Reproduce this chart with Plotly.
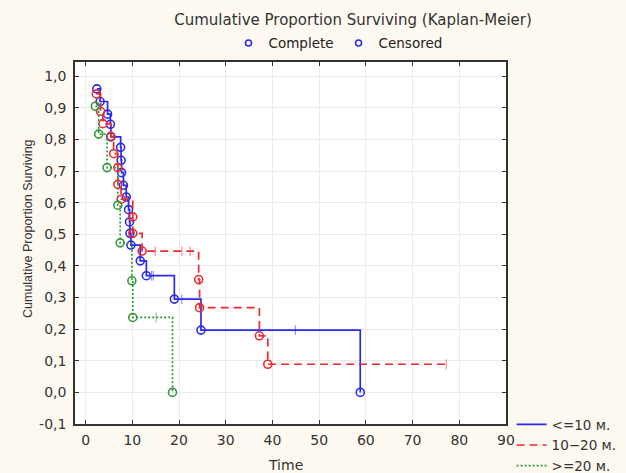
import plotly.graph_objects as go

# ---------------- data ----------------
groups = ["<=10 м.", "10\u221220 м.", ">=20 м."]

blue_event_t = [2.4, 3.1, 4.7, 5.3, 5.4, 7.5, 7.6, 7.7, 8.1, 8.7, 9.2, 9.4, 9.5, 9.7, 11.7, 13.0, 19.0, 24.7, 58.8]
blue_event_s = [0.96, 0.92, 0.88, 0.848, 0.808, 0.775, 0.734, 0.695, 0.655, 0.618, 0.578, 0.539, 0.503, 0.466, 0.416, 0.369, 0.295, 0.197, 0.0]
blue_cens_t = [14.1, 14.5, 20.6, 44.9]
blue_cens_s = [0.369, 0.369, 0.295, 0.197]

red_event_t = [2.3, 3.2, 3.7, 5.4, 6.0, 6.9, 6.9, 7.6, 10.1, 10.1, 12.1, 24.2, 24.4, 37.2, 39.0]
red_event_s = [0.944, 0.889, 0.85, 0.81, 0.755, 0.711, 0.658, 0.611, 0.555, 0.503, 0.447, 0.357, 0.268, 0.179, 0.089]
red_cens_t = [14.9, 20.6, 22.4, 77.2]
red_cens_s = [0.447, 0.447, 0.447, 0.089]

green_event_t = [2.1, 2.8, 4.6, 6.9, 7.4, 9.9, 10.1, 18.6]
green_event_s = [0.905, 0.817, 0.711, 0.592, 0.473, 0.353, 0.237, 0.0]
green_cens_t = [15.1]
green_cens_s = [0.237]

x_ticks = [0, 10, 20, 30, 40, 50, 60, 70, 80, 90]
y_ticks = [-0.1, 0.0, 0.1, 0.2, 0.3, 0.4, 0.5, 0.6, 0.7, 0.8, 0.9, 1.0]
y_tick_labels = ["-0,1", "0,0", "0,1", "0,2", "0,3", "0,4", "0,5", "0,6", "0,7", "0,8", "0,9", "1,0"]

colors = ["#2a2aee", "#ee2a2a", "#33993a"]
dashes = ["solid", "8px,5px", "2px,2px"]

FONT = "Liberation Sans, Arial, sans-serif"
WIDE = "DejaVu Sans, Verdana, sans-serif"

fig = go.Figure()

series = [
    (blue_event_t, blue_event_s, blue_cens_t, blue_cens_s),
    (red_event_t, red_event_s, red_cens_t, red_cens_s),
    (green_event_t, green_event_s, green_cens_t, green_cens_s),
]

for i, (et, es, ct, cs) in enumerate(series):
    pts = sorted(list(zip(et, es)) + list(zip(ct, cs)), key=lambda p: (p[0], -p[1]))
    fig.add_trace(go.Scatter(
        x=[p[0] for p in pts], y=[p[1] for p in pts],
        mode="lines", line=dict(color=colors[i], width=1.7, dash=dashes[i], shape="hv"),
        name=groups[i], legend="legend2", showlegend=True,
    ))
    fig.add_trace(go.Scatter(
        x=et, y=es, mode="markers",
        marker=dict(symbol="circle-open", size=8, color=colors[i], line=dict(width=1.6)),
        showlegend=False, hoverinfo="skip",
    ))
    fig.add_trace(go.Scatter(
        x=ct, y=cs, mode="markers",
        marker=dict(symbol="line-ns", size=7, color=colors[i], opacity=0.5, line=dict(width=1.2, color=colors[i])),
        showlegend=False, hoverinfo="skip",
    ))

# top legend entries
for nm in ["Complete", "Censored"]:
    fig.add_trace(go.Scatter(
        x=[None], y=[None], mode="markers", name=nm, legend="legend",
        marker=dict(symbol="circle-open", size=6, color="#2a2aee", line=dict(width=1.6)),
    ))

fig.update_layout(
    width=626, height=473,
    margin=dict(l=75, r=120, t=62, b=49, autoexpand=False),
    paper_bgcolor="#fdf9f0", plot_bgcolor="#ffffff",
    font=dict(family=WIDE, size=13, color="#333333"),
    title=dict(text="Cumulative Proportion Surviving (Kaplan-Meier)", x=353 / 626, xanchor="center",
               y=1 - 20 / 473, yanchor="middle", font=dict(family=WIDE, size=15, color="#333333")),
    legend=dict(orientation="h", x=(338 - 75) / 431, xanchor="center", y=1.052, yanchor="middle",
                bgcolor="rgba(0,0,0,0)", font=dict(family=WIDE, size=13.5, color="#222222"),
                itemwidth=30, traceorder="normal"),
    legend2=dict(orientation="v", x=1.013, xanchor="left", y=0.041, yanchor="top",
                 bgcolor="rgba(0,0,0,0)", font=dict(family=WIDE, size=13.5, color="#333333"),
                 itemwidth=30, tracegroupgap=0),
    showlegend=True,
)

fig.update_xaxes(
    range=[-2.27, 90], tickvals=x_ticks, ticktext=[str(v) for v in x_ticks],
    showgrid=True, gridcolor="#ebebeb", gridwidth=1, zeroline=False,
    showline=True, linecolor="#333333", linewidth=1.5, mirror="ticks",
    ticks="inside", ticklen=4, tickcolor="#333333", automargin=False,
    tickfont=dict(family=WIDE, size=14), ticklabelstandoff=2,
)
fig.update_yaxes(
    range=[-0.1, 1.045], tickvals=y_ticks, ticktext=y_tick_labels,
    showgrid=True, gridcolor="#ebebeb", gridwidth=1, zeroline=False,
    showline=True, linecolor="#333333", linewidth=1.5, mirror="ticks",
    ticks="inside", ticklen=4, tickcolor="#333333", automargin=False,
    tickfont=dict(family=WIDE, size=14), ticklabelstandoff=4,
)

fig.add_annotation(text="Cumulative Proportion Surviving", xref="paper", yref="paper",
                   x=-(75 - 28) / 431, y=(424 - 229) / 362, textangle=-90, showarrow=False,
                   font=dict(family=FONT, size=12.5, color="#333333"), xanchor="center", yanchor="middle")
fig.add_annotation(text="Time", xref="paper", yref="paper",
                   x=(285 - 75) / 431, y=-(465 - 424) / 362, showarrow=False,
                   font=dict(family=WIDE, size=14, color="#333333"), xanchor="center", yanchor="middle")

fig.write_html("out.html")
